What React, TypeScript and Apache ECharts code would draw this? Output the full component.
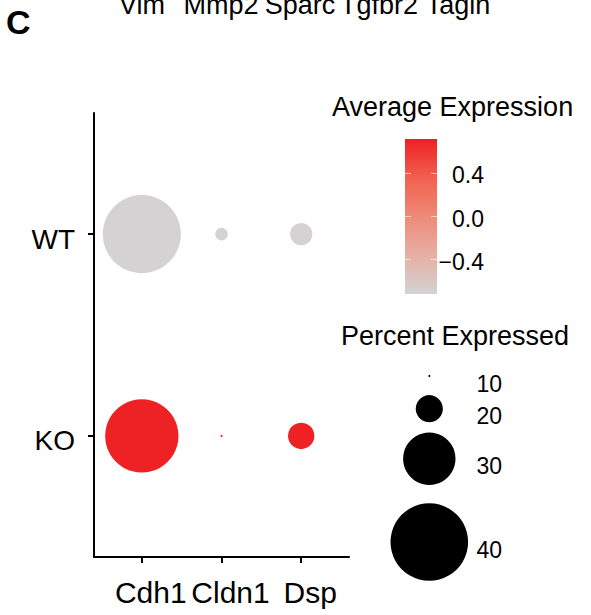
import React, { useEffect, useRef } from 'react';
import * as echarts from 'echarts';

// ---------------- data ----------------
const genes = ['Cdh1', 'Cldn1', 'Dsp'];
const groups = ['KO', 'WT']; // bottom to top
const pctWT = [40.2, 14.2, 18.1];
const pctKO = [38.3, 10.0, 19.7];
const avgWT = [-0.71, -0.71, -0.71];
const avgKO = [0.71, 0.71, 0.71];
const sizeBreaks = [10, 20, 30, 40];
const colorTicks = [0.4, 0.0, -0.4];
const colorRange = [-0.72, 0.72];
const topGenes = ['Vim', 'Mmp2', 'Sparc', 'Tgfbr2', 'Tagln'];

// grey -> red, interpolated in Lab like ggplot
const palette = ['#D3D3D3', 'rgb(230,175,165)', 'rgb(238,138,120)', 'rgb(241,96,78)', '#EE2024'];
const FONT = '"Liberation Sans", Arial, Helvetica, sans-serif';

const radius = (p: number) => Math.max(0.5, 1.26 * p - 11.6);

export default function App() {
  const ref = useRef<HTMLDivElement>(null);
  useEffect(() => {
    if (!ref.current) return;
    const chart = echarts.init(ref.current, null, { renderer: 'svg' });

    const data: any[] = [];
    genes.forEach((g, i) => {
      data.push([i + 1, 2, pctWT[i], avgWT[i]]);
      data.push([i + 1, 1, pctKO[i], avgKO[i]]);
    });

    // colorbar geometry
    const cbX = 405, cbY = 139, cbW = 32, cbH = 155;
    const cbPos = (v: number) => cbY + ((colorRange[1] - v) / (colorRange[1] - colorRange[0])) * cbH;

    const graphics: any[] = [];
    graphics.push({
      type: 'text', x: 6, y: 22,
      style: { text: 'C', fontSize: 34, fontWeight: 'bold', fontFamily: FONT, fill: '#000', align: 'left', verticalAlign: 'middle' },
    });
    topGenes.forEach((g, i) => {
      graphics.push({
        type: 'text', x: 142 + i * 79, y: 5,
        style: { text: g, fontSize: 27, fontFamily: FONT, fill: '#000', align: 'center', verticalAlign: 'middle' },
      });
    });
    graphics.push({
      type: 'text', x: 332, y: 106.5,
      style: { text: 'Average Expression', fontSize: 27, fontFamily: FONT, fill: '#000', align: 'left', verticalAlign: 'middle' },
    });
    graphics.push({
      type: 'rect', shape: { x: cbX, y: cbY, width: cbW, height: cbH },
      style: {
        fill: new echarts.graphic.LinearGradient(0, 0, 0, 1,
          palette.slice().reverse().map((c, i, arr) => ({ offset: i / (arr.length - 1), color: c }))),
      },
    });
    colorTicks.forEach((v) => {
      const y = cbPos(v);
      graphics.push({ type: 'line', shape: { x1: cbX, y1: y, x2: cbX + 6, y2: y }, style: { stroke: 'rgba(255,255,255,0.6)', lineWidth: 1 } });
      graphics.push({ type: 'line', shape: { x1: cbX + cbW - 6, y1: y, x2: cbX + cbW, y2: y }, style: { stroke: 'rgba(255,255,255,0.6)', lineWidth: 1 } });
      graphics.push({
        type: 'text', x: 484, y: y + 2,
        style: { text: (v < 0 ? '\u2212' : '') + Math.abs(v).toFixed(1), fontSize: 23, fontFamily: FONT, fill: '#000', align: 'right', verticalAlign: 'middle' },
      });
    });
    graphics.push({
      type: 'text', x: 341, y: 336.3,
      style: { text: 'Percent Expressed', fontSize: 27, fontFamily: FONT, fill: '#000', align: 'left', verticalAlign: 'middle' },
    });
    const legendY = [376, 408.7, 458.7, 542];
    sizeBreaks.forEach((b, i) => {
      graphics.push({ type: 'circle', shape: { cx: 429.3, cy: legendY[i], r: radius(b) }, style: { fill: '#000' } });
      graphics.push({
        type: 'text', x: 476.5, y: legendY[i] + 7.5,
        style: { text: String(b), fontSize: 23, fontFamily: FONT, fill: '#000', align: 'left', verticalAlign: 'middle' },
      });
    });

    chart.setOption({
      animation: false,
      grid: { left: 94, top: 113, width: 255, height: 444, containLabel: false },
      xAxis: {
        type: 'value', min: 0.4, max: 3.6,
        splitLine: { show: false },
        axisLine: { show: true, onZero: false, lineStyle: { color: '#000', width: 2 } },
        axisTick: { show: true, customValues: [1, 2, 3], length: 6, lineStyle: { color: '#000', width: 2 } },
        axisLabel: {
          customValues: [1, 2, 3], formatter: (v: number) => genes[Math.round(v) - 1],
          fontSize: 30, color: '#000', margin: 20, fontFamily: FONT, padding: [0, 0, 0, 18],
        },
      },
      yAxis: {
        type: 'value', min: 0.4, max: 2.6,
        splitLine: { show: false },
        axisLine: { show: true, onZero: false, lineStyle: { color: '#000', width: 2 } },
        axisTick: { show: true, customValues: [1, 2], length: 6, lineStyle: { color: '#000', width: 2 } },
        axisLabel: {
          customValues: [1, 2], formatter: (v: number) => groups[Math.round(v) - 1],
          fontSize: 28, color: '#000', margin: 19, fontFamily: FONT,
          verticalAlign: 'top', lineHeight: 10,
        },
      },
      visualMap: {
        show: false, type: 'continuous', dimension: 3,
        min: colorRange[0], max: colorRange[1],
        inRange: { color: palette },
      },
      series: [{
        type: 'scatter',
        data,
        symbol: 'circle',
        symbolSize: (val: number[]) => 2 * radius(val[2]),
        itemStyle: { opacity: 1 },
      }],
      graphic: graphics,
    });
    return () => chart.dispose();
  }, []);
  return <div ref={ref} style={{ position: 'absolute', left: 0, top: 0, width: 591, height: 615 }} />;
}
